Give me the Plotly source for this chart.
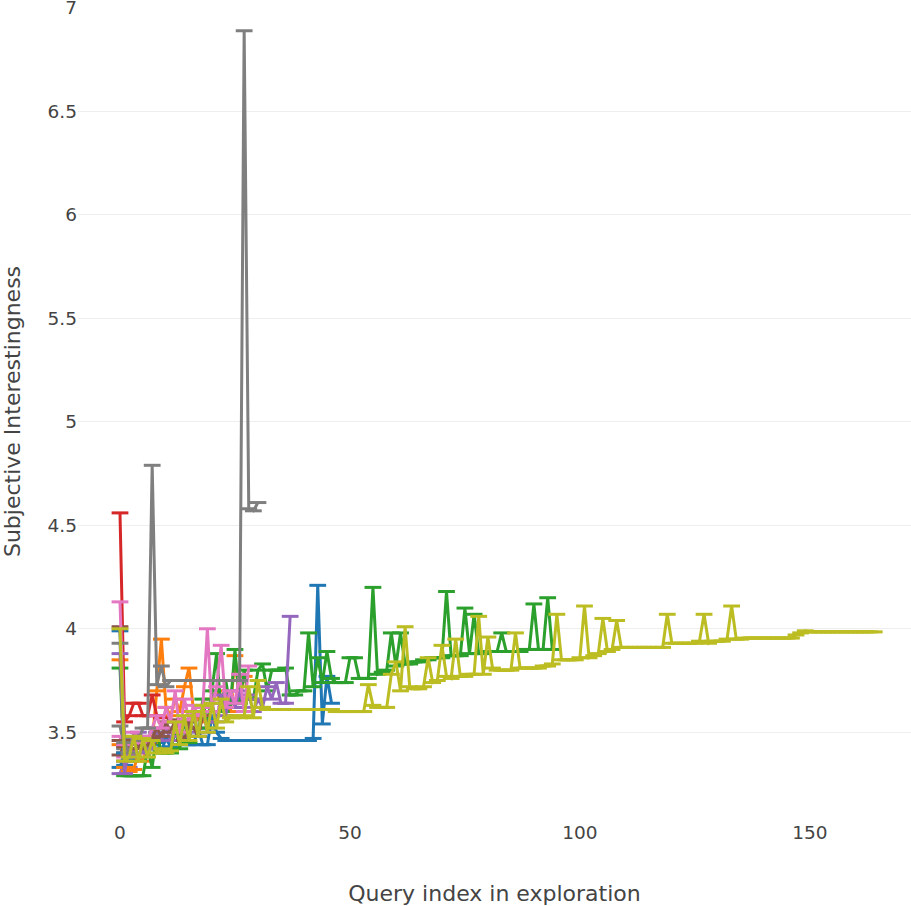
import plotly.graph_objects as go

# subjective interestingness per query, one list per exploration session
blue = [3.99, 3.34, 3.42, 3.37, 3.45, 3.43, 3.48, 3.42, 3.45, 3.41, 3.47, 3.43, 3.50, 3.44,
        3.48, 3.44, 3.44, 3.52, 3.44, 3.44, 3.58, 3.50, 3.47, 3.46, 3.46, 3.46, 3.46, 3.46,
        3.46, 3.46, 3.46, 3.46, 3.46, 3.46, 3.46, 3.46, 3.46, 3.46, 3.46, 3.46, 3.46, 3.46,
        3.47, 4.21, 3.54, 3.77, 3.64]
orange = [3.85, 3.33, 3.31, 3.32, 3.40, 3.36, 3.44, 3.45, 3.70, 3.95, 3.62, 3.58, 3.66, 3.60,
          3.72, 3.81, 3.60, 3.56, 3.62, 3.55, 3.66, 3.70, 3.64, 3.68, 3.60, 3.87, 3.65, 3.77]
green = [3.81, 3.29, 3.29, 3.29, 3.29, 3.29, 3.42, 3.33, 3.50, 3.40, 3.40, 3.40, 3.52, 3.42,
         3.56, 3.45, 3.60, 3.48, 3.66, 3.52, 3.70, 3.88, 3.60, 3.75, 3.62, 3.90, 3.64, 3.80,
         3.66, 3.66, 3.80, 3.83, 3.70, 3.80, 3.80, 3.80, 3.81, 3.68, 3.68, 3.70, 3.70, 3.98,
         3.72, 3.86, 3.74, 3.89, 3.76, 3.74, 3.74, 3.74, 3.86, 3.86, 3.76, 3.76, 3.76, 4.20,
         3.78, 3.79, 3.80, 3.98, 3.82, 3.98, 3.83, 3.83, 3.84, 3.84, 3.85, 3.85, 3.86, 3.86,
         3.86, 4.18, 3.87, 3.87, 3.87, 4.10, 3.88, 4.07, 3.88, 3.88, 3.89, 3.89, 3.89, 3.98,
         3.89, 3.89, 3.89, 3.89, 3.90, 3.90, 4.12, 3.90, 3.90, 4.15, 3.90]
red = [4.56, 3.55, 3.58, 3.64, 3.64, 3.58, 3.58, 3.68, 3.58, 3.57]
purple = [3.88, 3.30, 3.45, 3.38, 3.50, 3.40, 3.45, 3.42, 3.50, 3.46, 3.52, 3.46, 3.55, 3.48,
          3.55, 3.50, 3.58, 3.48, 3.62, 3.50, 3.64, 3.55, 3.68, 3.58, 3.70, 3.62, 3.70, 3.62,
          3.68, 3.60, 3.66, 3.62, 3.72, 3.66, 3.74, 3.64, 3.64, 4.06]
brown = [4.01, 3.43, 3.40, 3.46, 3.42, 3.48, 3.44, 3.47, 3.52, 3.48, 3.55, 3.50, 3.56, 3.50,
         3.46, 3.55, 3.52, 3.48, 3.58]
pink = [4.13, 3.44, 3.40, 3.50, 3.45, 3.48, 3.46, 3.52, 3.58, 3.52, 3.62, 3.55, 3.70, 3.50,
        3.66, 3.56, 3.63, 3.58, 3.62, 4.00, 3.60, 3.72, 3.92, 3.62, 3.70, 3.64, 3.78, 3.60, 3.82]
gray = [3.93, 3.45, 3.40, 3.48, 3.46, 3.52, 3.52, 4.79, 3.73, 3.82, 3.72, 3.75, 3.75, 3.75,
        3.75, 3.75, 3.75, 3.75, 3.75, 3.75, 3.75, 3.75, 3.75, 3.75, 3.75, 3.75, 3.75, 6.89,
        4.58, 4.57, 4.61]
olive = [4.00, 3.36, 3.38, 3.48, 3.36, 3.47, 3.38, 3.46, 3.40, 3.42, 3.40, 3.41, 3.55, 3.44,
         3.58, 3.46, 3.60, 3.48, 3.63, 3.50, 3.64, 3.52, 3.66, 3.55, 3.57, 3.58, 3.57, 3.58,
         3.72, 3.57, 3.75, 3.62, 3.61, 3.61, 3.61, 3.61, 3.61, 3.61, 3.61, 3.61, 3.61, 3.61,
         3.61, 3.61, 3.61, 3.61, 3.61, 3.60, 3.60, 3.60, 3.60, 3.60, 3.60, 3.60, 3.73, 3.63,
         3.62, 3.62, 3.62, 3.78, 3.84, 3.70, 4.01, 3.72, 3.71, 3.71, 3.72, 3.86, 3.74, 3.75,
         3.92, 3.77, 3.76, 3.95, 3.77, 3.77, 3.78, 3.78, 4.06, 3.78, 3.96, 3.81, 3.80, 3.80,
         3.80, 3.80, 3.98, 3.81, 3.81, 3.81, 3.81, 3.81, 3.82, 3.82, 3.83, 4.07, 3.85, 3.85,
         3.85, 3.85, 3.86, 4.11, 3.86, 3.87, 3.88, 4.05, 3.89, 3.90, 4.04, 3.91, 3.91, 3.91,
         3.91, 3.91, 3.91, 3.91, 3.91, 3.91, 3.91, 4.07, 3.93, 3.93, 3.93, 3.93, 3.93, 3.93,
         3.94, 4.07, 3.93, 3.94, 3.94, 3.94, 3.95, 4.11, 3.95, 3.95, 3.955, 3.955, 3.955,
         3.955, 3.955, 3.955, 3.955, 3.955, 3.955, 3.955, 3.955, 3.97, 3.98, 3.99, 3.985,
         3.985, 3.985, 3.985, 3.985, 3.985, 3.985, 3.985, 3.985, 3.985, 3.985, 3.985, 3.985,
         3.985, 3.985]

# short sessions that only got a few queries
short_gray = [3.53, 3.42, 3.47]
short_pink = [3.48, 3.38, 3.44]
short_brown = [3.46, 3.40, 3.36]
short_orange = [3.44, 3.36, 3.40]
short_brown2 = [3.39, 3.44, 3.41]
short_blue = [3.33, 3.40, 3.36]
short_purple = [3.30, 3.36, 3.33]

sessions = [
    (short_gray, '#7f7f7f'), (short_pink, '#e377c2'), (short_brown, '#8c564b'),
    (short_orange, '#ff7f0e'), (short_brown2, '#8c564b'), (short_blue, '#1f77b4'),
    (short_purple, '#9467bd'),
    (blue, '#1f77b4'), (orange, '#ff7f0e'), (green, '#2ca02c'), (red, '#d62728'),
    (purple, '#9467bd'), (brown, '#8c564b'), (pink, '#e377c2'), (gray, '#7f7f7f'),
    (olive, '#bcbd22'),
]

fig = go.Figure()
for vals, col in sessions:
    fig.add_trace(go.Scatter(
        x=list(range(len(vals))), y=vals, mode='lines+markers',
        line=dict(color=col, width=3),
        marker=dict(symbol='line-ew-open', size=12, color=col, line=dict(width=3, color=col)),
        showlegend=False))

fig.update_layout(
    template='plotly_white',
    width=911, height=906,
    margin=dict(l=78, r=0, t=8, b=91),
    font=dict(family='DejaVu Sans, Verdana', size=18.5, color='#444'),
    plot_bgcolor='white',
)
fig.update_xaxes(title_text='Query index in exploration', range=[-9.13, 172],
                 showgrid=False, zeroline=False, tickvals=[0, 50, 100, 150],
                 ticklabelstandoff=4, title_standoff=44, automargin=False)
fig.update_yaxes(title_text='Subjective Interestingness', range=[3.1, 7],
                 gridcolor='#eeeeee', zeroline=False, dtick=0.5, title_standoff=24,
                 automargin=False, ticklabeloverflow='allow')

# page body has an 8px default margin; drop it so the figure sits at the window corner
fig.write_html("out.html", config={'displayModeBar': False},
               post_script="document.body.style.margin='0';")
